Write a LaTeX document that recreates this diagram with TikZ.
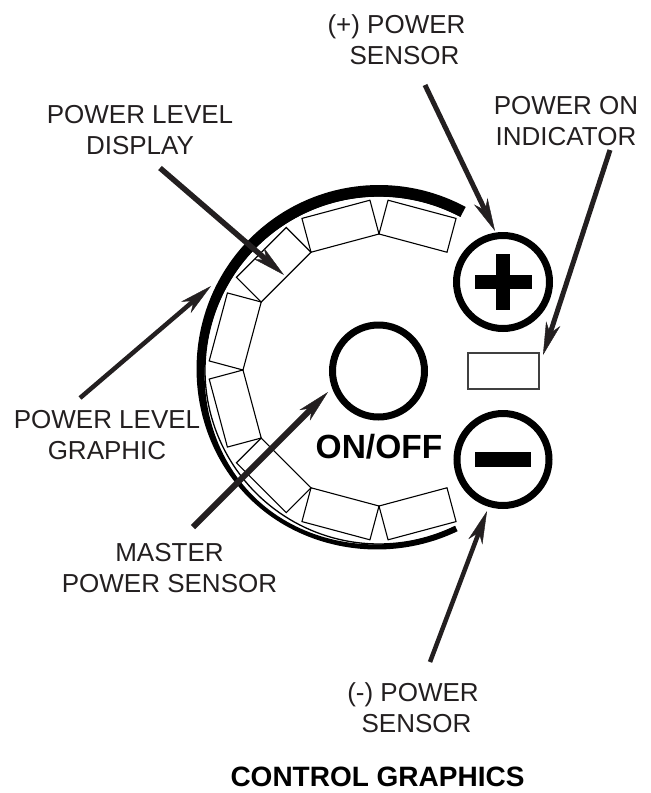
\documentclass[tikz,border=0pt]{standalone}
\usepackage{fontspec}
\setmainfont{Liberation Sans}
\usetikzlibrary{arrows.meta}
\definecolor{ink}{RGB}{35,31,32}
\begin{document}
\begin{tikzpicture}[x=1pt,y=-1pt,
  lbl/.style={font=\fontsize{26}{31}\selectfont, text=ink, align=center, inner sep=0pt, anchor=north},
  boldlbl/.style={font=\bfseries, text=black, inner sep=0pt, anchor=base},
  ptr/.style={draw=ink, line width=5pt, -{Stealth[length=33pt,width=15pt,inset=10pt,line width=0.4pt]}},
  ring/.style={circle, draw=black, line width=7pt, inner sep=0pt},
  seg/.style={draw=black, line width=1.1pt, line join=miter},
  bar/.style={fill=black}
]
\useasboundingbox (0,0) rectangle (651,793);

% power level display segments
\foreach \t in {75,105,...,285}{
  \pgfmathsetmacro\aa{\t-15}
  \pgfmathsetmacro\bb{\t+15}
  \draw[seg] ({379+136*cos(\aa)},{370-136*sin(\aa)})
    -- ({379+136*cos(\aa)+35*cos(\t)},{370-136*sin(\aa)-35*sin(\t)})
    -- ({379+136*cos(\bb)+35*cos(\t)},{370-136*sin(\bb)-35*sin(\t)})
    -- ({379+136*cos(\bb)},{370-136*sin(\bb)}) -- cycle;
}

% power level graphic: thin arc and thick crescent
\draw[line width=1.3pt] plot[domain=62:296, samples=120] ({379+174*cos(\x)},{370-174*sin(\x)});
\fill[black]
  plot[domain=62:296, samples=140]
    ({379+(182+3*sin(\x)+2.5*exp(0-((\x-225)/35)*((\x-225)/35)))*cos(\x)},
     {370-(182+3*sin(\x)+2.5*exp(0-((\x-225)/35)*((\x-225)/35)))*sin(\x)})
  -- plot[domain=296:62, samples=140]
    ({379+(173.5+4.5*exp(0-((\x-225)/35)*((\x-225)/35)))*cos(\x)},
     {370-(173.5+4.5*exp(0-((\x-225)/35)*((\x-225)/35)))*sin(\x)})
  -- cycle;

% master power sensor
\node[ring, minimum size=92pt] (master) at (378.5,371) {};
\node[boldlbl, font=\fontsize{33.5}{40}\selectfont\bfseries] (onoff) at (379,458) {ON/OFF};

% plus sensor
\node[ring, minimum size=93pt] (plus) at (503,282) {};
\fill[bar] ([shift={(-28.5,-7)}]plus.center) rectangle ++(57,14);
\fill[bar] ([shift={(-7,-28)}]plus.center) rectangle ++(14,56);

% power on indicator
\node[draw=black!75, line width=1.2pt, minimum width=71pt, minimum height=36pt, inner sep=0pt] (ind) at (503.5,371) {};

% minus sensor
\node[ring, minimum size=92pt] (minus) at (503,459.5) {};
\fill[bar] ([shift={(-28,-7.5)}]minus.center) rectangle ++(56,15);

% labels
\node[lbl] (lplus) at (396.5,14.1) {(+) POWER\\\hspace*{16pt}SENSOR};
\node[lbl] (ldisp) at (140,105.1) {POWER LEVEL\\DISPLAY};
\node[lbl] (lind) at (566,96.1) {POWER ON\\INDICATOR};
\node[lbl] (lgraph) at (107,410.1) {POWER LEVEL\\GRAPHIC};
\node[lbl] (lmaster) at (169.5,543.4) {MASTER\\POWER SENSOR};
\node[lbl] (lminus) at (413,682.1) {(-) POWER\\\hspace*{7pt}SENSOR};
\node[boldlbl, font=\fontsize{28}{34}\selectfont\bfseries] (title) at (377.5,786.5) {CONTROL GRAPHICS};

% arrow ends
\coordinate (dispS) at (160,168);  \coordinate (dispT) at (284,275);
\coordinate (plusS) at (425,85);   \coordinate (plusT) at (495,231);
\coordinate (indS) at (610,150);   \coordinate (indT) at (543,355);
\coordinate (grS) at (80,398);     \coordinate (grT) at (211,286);
\coordinate (msS) at (193,527);    \coordinate (msT) at (328,392);
\coordinate (mnS) at (430,662);    \coordinate (mnT) at (487,511);

\draw[ptr, line width=5.5pt] (dispS) -- (dispT);
\draw[ptr] (plusS) -- (plusT);
\draw[ptr] (indS) -- (indT);
\draw[ptr, line width=4.5pt] (grS) -- (grT);
\draw[ptr, line width=6pt] (msS) -- (msT);
\draw[ptr, line width=4.5pt] (mnS) -- (mnT);
\end{tikzpicture}
\end{document}
